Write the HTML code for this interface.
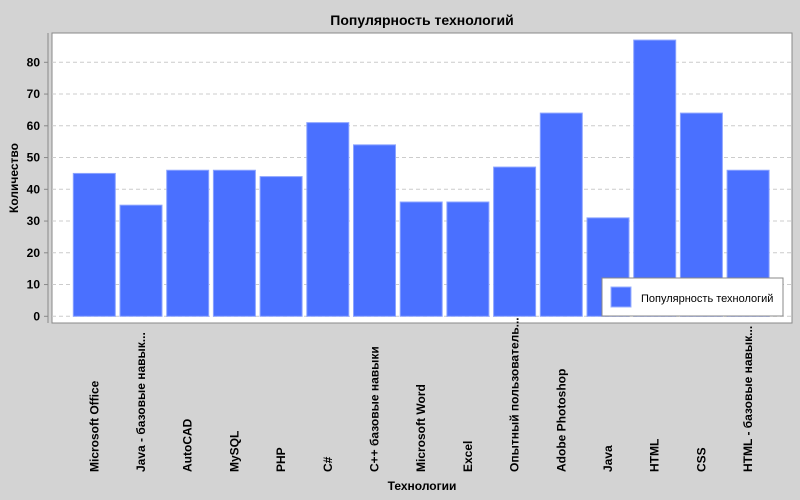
<!DOCTYPE html>
<html><head><meta charset="utf-8"><style>
body{margin:0;background:#d3d3d3;font-family:"Liberation Sans",sans-serif}
svg{display:block}
</style></head><body>
<svg id="chart" width="800" height="500" xmlns="http://www.w3.org/2000/svg">
<rect width="800" height="500" fill="#d3d3d3"/>
<text x="422" y="25" text-anchor="middle" font-size="14" font-weight="bold">Популярность технологий</text>
<rect x="52" y="33" width="740" height="290" fill="#fff" stroke="#888"/>
<line x1="48" y1="33" x2="48" y2="323" stroke="#888"/>
<g id="grid"></g><g id="bars"></g><g id="yt"></g><g id="xt"></g>
<text transform="translate(18,178) rotate(-90)" text-anchor="middle" font-size="12" font-weight="bold">Количество</text>
<text x="422" y="490" text-anchor="middle" font-size="12" font-weight="bold">Технологии</text>
<g>
<rect x="602" y="278" width="181" height="38" fill="#fff" stroke="#888"/>
<rect x="611" y="287" width="20" height="20" fill="#4a70ff" stroke="#9ab0ff"/>
<text x="641" y="302" font-size="11">Популярность технологий</text>
</g>
</svg>
<script>
const categories=["Microsoft Office","Java - базовые навык...","AutoCAD","MySQL","PHP","C#","C++ базовые навыки","Microsoft Word","Excel","Опытный пользователь...","Adobe Photoshop","Java","HTML","CSS","HTML - базовые навык..."];
const values=[45,35,46,46,44,61,54,36,36,47,64,31,87,64,46];
const yTicks=[0,10,20,30,40,50,60,70,80];
const NS="http://www.w3.org/2000/svg";
const y=v=>316.3-v*3.175;
const x=i=>94.3+i*46.7;
function mk(t,a,p){const e=document.createElementNS(NS,t);for(const k in a)e.setAttribute(k,a[k]);document.getElementById(p).appendChild(e);return e;}
yTicks.forEach(t=>{
 const g=mk('line',{x1:52,x2:792,y1:y(t),y2:y(t),stroke:'#ccc','stroke-dasharray':'4,3'},'grid');
 
 
 const tk=mk('line',{x1:44,x2:48,y1:y(t),y2:y(t),stroke:'#888'},'yt');
 
 
 const l=mk('text',{x:40,y:y(t)+4,'text-anchor':'end','font-size':12,'font-weight':'bold'},'yt');
 l.textContent=t;
 
 
});
values.forEach((v,i)=>{
 const b=mk('rect',{x:x(i)-21,y:y(v),width:42,height:y(0)-y(v),fill:'#4a70ff',stroke:'#8ca4ff','stroke-width':1},'bars');
 
 
 const l=mk('text',{transform:`translate(${x(i)+4},472) rotate(-90)`,'font-size':12,'font-weight':'bold'},'xt');
 l.textContent=categories[i];
 
 
});
</script>
</body></html>
